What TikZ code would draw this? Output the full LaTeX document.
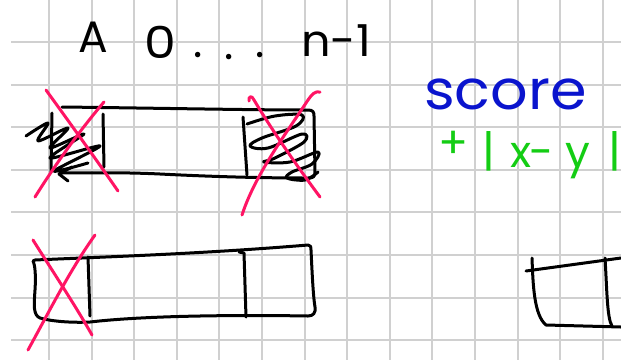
\documentclass[tikz,border=0pt]{standalone}
\usepackage{fontspec}
\newfontfamily\hand{Poppins}
\definecolor{gridgray}{RGB}{208,208,208}
\definecolor{inkred}{RGB}{255,20,100}
\definecolor{inkblue}{RGB}{10,20,205}
\definecolor{inkgreen}{RGB}{20,205,20}
\tikzset{
  gridline/.style={gridgray,line width=2pt},
  ink/.style={black,line width=3pt,line cap=round,line join=round},
  redink/.style={inkred,line width=3pt,line cap=round,line join=round},
  handtext/.style={font=\hand\fontsize{44}{44}\selectfont,inner sep=0pt,anchor=base},
  bluetext/.style={font=\hand\fontsize{55}{55}\selectfont,inkblue,inner sep=0pt,anchor=base west},
  greentext/.style={font=\hand\fontsize{44}{44}\selectfont,inkgreen,inner sep=0pt,anchor=base},
}
\begin{document}
\begin{tikzpicture}[x=1pt,y=-1pt]
\useasboundingbox (0,0) rectangle (621,360);
\fill[white] (0,0) rectangle (621,360);
% grid paper
\foreach \i in {0,...,13} \draw[gridline] ({49+42.6*\i},0) -- ({49+42.6*\i},360);
\foreach \j in {0,...,7} \draw[gridline] (11,{42+42.6*\j}) -- (621,{42+42.6*\j});

% heading
\node[handtext] (A) at (93,52) {A};
\node[handtext,xscale=1.15] (zero) at (160,58) {0};
\node[handtext] (dotone) at (198,57) {.};
\node[handtext] (dottwo) at (229,59) {.};
\node[handtext] (dotthree) at (260,57) {.};
\node[handtext,xscale=1.05] (nm) at (336,56) {n-1};

% score text
\node[bluetext,xscale=1.07] (score) at (424,109) {score};
\node[greentext] (plus) at (454,158) {+};
\node[greentext] (bara) at (489,166) {|};
\node[greentext] (xx) at (521,167) {x};
\node[greentext] (minus) at (542,167) {-};
\node[greentext] (yy) at (578,167) {y};
\node[greentext,anchor=base east] (barb) at (621,166) {|};

% top box
\draw[ink] (62,107) .. controls (150,108) and (250,110) .. (308,110)
  .. controls (313,110) and (314,112) .. (314,116) -- (315,172)
  .. controls (315,177) and (313,178) .. (308,178)
  .. controls (250,178) and (200,176) .. (160,174)
  .. controls (120,172) and (80,173) .. (60,173);
\draw[ink] (52,113) -- (51,172);
\draw[ink] (103,114) -- (104,167);
\draw[ink] plot[smooth,tension=0.5] coordinates {(26,136) (48,123) (38,141) (68,128) (50,148) (84,134) (50,158) (100,146) (54,171) (88,163)};
\draw[ink] (72,167) -- (59,174) -- (68,181);
% right scribble
\draw[ink] (243,117) -- (247,175);
\draw[ink] plot[smooth,tension=0.6] coordinates {(247,124) (275,116) (302,115) (296,126) (262,138) (250,146) (268,148) (302,134) (304,142) (275,158) (264,162) (290,162) (318,152) (312,164) (292,172) (287,178) (305,180) (318,172)};
% red crosses top
\draw[redink] (46,90) .. controls (75,130) and (100,165) .. (118,191);
\draw[redink] (104,102) .. controls (80,130) and (55,165) .. (35,197);
\draw[redink] (249,101) .. controls (248,96) and (252,95) .. (254,100)
  .. controls (275,135) and (300,170) .. (320,197);
\draw[redink] (320,92) .. controls (315,91) and (312,94) .. (308,100)
  .. controls (285,135) and (255,175) .. (242,215);

% bottom box
\draw[ink] (35,260) .. controls (100,257) and (200,254) .. (308,245)
  .. controls (311,245) and (311,247) .. (311,250)
  .. controls (312,270) and (313,295) .. (315,307)
  .. controls (316,313) and (313,316) .. (308,316)
  .. controls (250,315) and (150,315) .. (90,322)
  .. controls (70,323) and (50,321) .. (40,318)
  .. controls (33,315) and (34,305) .. (35,290)
  .. controls (36,275) and (35,265) .. (33,261) -- (35,260);
\draw[ink] (88,257) -- (90,316);
\draw[ink] (239,252) -- (244,253) -- (246,317);
\draw[redink] (33,240) .. controls (55,275) and (75,305) .. (92,335);
\draw[redink] (95,235) .. controls (70,270) and (50,310) .. (28,350);

% partial box right
\draw[ink] (526,271) -- (621,258);
\draw[ink] (532,258) .. controls (533,285) and (534,315) .. (546,325) -- (621,327);
\draw[ink] (605,258) .. controls (607,290) and (607,318) .. (612,326);
\end{tikzpicture}
\end{document}
